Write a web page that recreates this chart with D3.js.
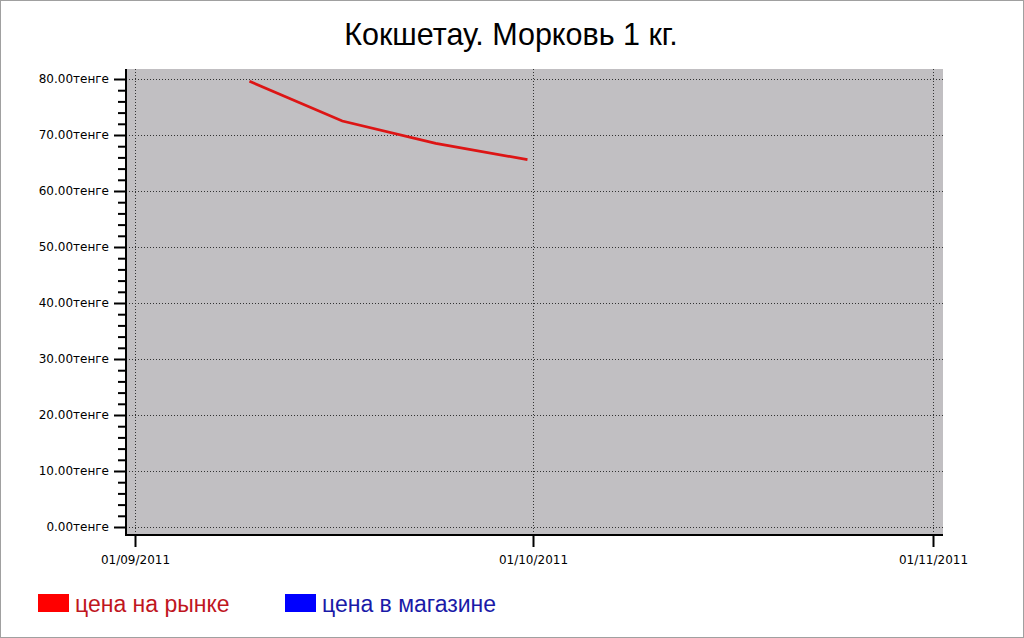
<!DOCTYPE html>
<html><head><meta charset="utf-8">
<script src="https://cdn.jsdelivr.net/npm/d3@7"></script>
<style>body{margin:0;background:#fff}svg{display:block}</style>
</head><body>
<svg id="c" width="1024" height="638"></svg>
<script>
const title = "Кокшетау. Морковь 1 кг.";
const dates = ["2011-09-09T15:00", "2011-09-16T15:00", "2011-09-23T16:00", "2011-09-30T14:00"];
const marketPrice = [79.6, 72.5, 68.5, 65.6];
const storePrice = [];
const xTicks = ["2011-09-01", "2011-10-01", "2011-11-01"];
const yTicks = [0, 10, 20, 30, 40, 50, 60, 70, 80];
const seriesNames = ["цена на рынке", "цена в магазине"];
const seriesColors = ["#ff0000", "#0000ff"];
const legendTextColors = ["#c0161e", "#1a1aa8"];

const parse = d3.isoParse;
const svg = d3.select("#c");
svg.append("rect").attr("x",0.5).attr("y",0.5).attr("width",1023).attr("height",637)
  .attr("fill","#fff").attr("stroke","#a0a0a0");

const plot = {left:126, right:943, top:69, bottom:535};
const x = d3.scaleTime().domain(xTicks.map(parse)).range([135, 533, 933]);
const y = d3.scaleLinear().domain([0, 80]).range([527, 79]);

svg.append("rect").attr("x",plot.left).attr("y",plot.top)
  .attr("width",plot.right-plot.left).attr("height",plot.bottom-plot.top).attr("fill","#c1bfc2");

// grid
svg.append("g").selectAll("line").data(yTicks).join("line")
  .attr("x1",plot.left).attr("x2",plot.right).attr("y1",d=>Math.round(y(d))+0.5).attr("y2",d=>Math.round(y(d))+0.5)
  .attr("stroke","#333").attr("stroke-width",1).attr("stroke-dasharray","1,2");
svg.append("g").selectAll("line").data(xTicks).join("line")
  .attr("x1",d=>Math.round(x(parse(d)))+0.5).attr("x2",d=>Math.round(x(parse(d)))+0.5)
  .attr("y1",plot.top).attr("y2",plot.bottom)
  .attr("stroke","#333").attr("stroke-width",1).attr("stroke-dasharray","1,2");

// y axis
const yMinor = d3.range(0, 81, 2).filter(v=>v%10!==0);
const yAxisG = svg.append("g").attr("transform",`translate(${plot.left},0)`);
yAxisG.call(d3.axisLeft(y).tickValues(yTicks).tickSize(12).tickPadding(5)
  .tickFormat(d=>d3.format(".2f")(d)+"тенге"));
yAxisG.select(".domain").remove();
yAxisG.selectAll(".tick line").attr("stroke","#000").attr("stroke-width",2);
yAxisG.selectAll(".tick text").attr("font-family","DejaVu Sans, sans-serif").attr("font-size",12).attr("fill","#000");
const yMinorG = svg.append("g").attr("transform",`translate(${plot.left},0)`);
yMinorG.call(d3.axisLeft(y).tickValues(yMinor).tickSize(8).tickFormat(""));
yMinorG.select(".domain").remove();
yMinorG.selectAll(".tick line").attr("stroke","#000").attr("stroke-width",2);

// x axis
const xAxisG = svg.append("g").attr("transform",`translate(0,${plot.bottom})`);
xAxisG.call(d3.axisBottom(x).tickValues(xTicks.map(parse)).tickSize(12).tickPadding(8)
  .tickFormat(d3.timeFormat("%d/%m/%Y")));
xAxisG.select(".domain").remove();
xAxisG.selectAll(".tick line").attr("stroke","#000").attr("stroke-width",2);
xAxisG.selectAll(".tick text").attr("font-family","DejaVu Sans, sans-serif").attr("font-size",12).attr("fill","#000");

// axis lines
svg.append("line").attr("x1",plot.left).attr("x2",plot.left).attr("y1",plot.top).attr("y2",plot.bottom+1)
  .attr("stroke","#000").attr("stroke-width",2);
svg.append("line").attr("x1",plot.left-1).attr("x2",plot.right).attr("y1",plot.bottom).attr("y2",plot.bottom)
  .attr("stroke","#000").attr("stroke-width",2);

// series
const line = d3.line().x(d=>x(d[0])).y(d=>y(d[1]));
const market = dates.map((d,i)=>[parse(d), marketPrice[i]]);
svg.append("path").datum(market).attr("d",line).attr("fill","none")
  .attr("stroke","#dd1515").attr("stroke-width",2.7);
if (storePrice.length) {
  svg.append("path").datum(dates.map((d,i)=>[parse(d), storePrice[i]])).attr("d",line)
    .attr("fill","none").attr("stroke",seriesColors[1]).attr("stroke-width",2.7);
}

// title
svg.append("text").attr("x",511).attr("y",45).attr("text-anchor","middle")
  .attr("font-family","Liberation Sans, Arial, sans-serif").attr("font-size",30.5).attr("fill","#000").text(title);

// legend
const legX = [38, 285];
seriesNames.forEach((n,i)=>{
  svg.append("rect").attr("x",legX[i]).attr("y",594).attr("width",31).attr("height",18).attr("fill",seriesColors[i]);
  svg.append("text").attr("x",legX[i]+37).attr("y",612).attr("font-family","Liberation Sans, Arial, sans-serif")
    .attr("font-size",23).attr("fill",legendTextColors[i]).text(n);
});
</script>
</body></html>
